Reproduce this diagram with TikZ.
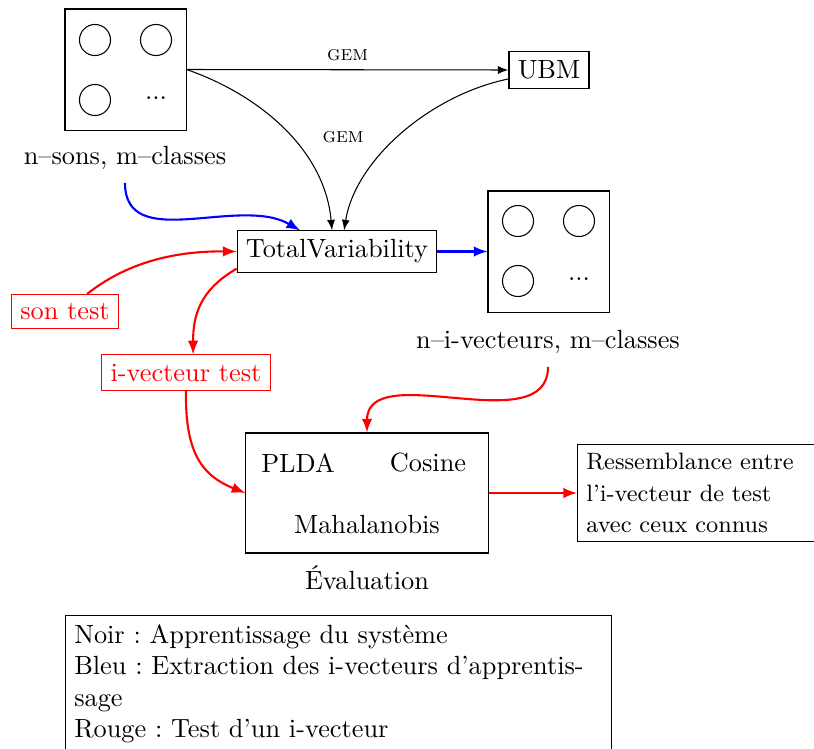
\documentclass[tikz,border=0pt]{standalone}
\usetikzlibrary{arrows}
\begin{document}
\begin{tikzpicture}[x=0.38pt,y=-0.38pt,
  box/.style={draw, inner sep=3.33pt},
  sq/.style={draw, minimum width=46pt, minimum height=46pt, inner sep=0pt},
  circ/.style={draw, circle, minimum size=11.8pt, inner sep=0pt},
  blk/.style={-latex},
  blu/.style={blue, thick, -latex},
  rd/.style={red, thick, -latex},
  redbox/.style={draw=red, text=red, inner sep=3.33pt},
  lbl/.style={font=\footnotesize}]
\path[use as bounding box, clip] (0,0) rectangle (814,749);

% training set box
\node[sq] (boxA) at (125.5,69.5) {};
\node[circ] (a1) at (95,40) {};
\node[circ] (a2) at (156,40) {};
\node[circ] (a3) at (95,100) {};
\node (a4) at (156,98) {...};
\node (lblA) at (125,158) {n--sons, m--classes};

\node[box] (ubm) at (549,70) {UBM};
\node[box] (tv) at (337,251.5) {TotalVariability};

% i-vectors box
\node[sq] (boxB) at (548.5,251.5) {};
\node[circ] (b1) at (518,221) {};
\node[circ] (b2) at (579,221) {};
\node[circ] (b3) at (518,281) {};
\node (b4) at (579,279) {...};
\node (lblB) at (548,342) {n--i-vecteurs, m--classes};

\node[redbox] (sontest) at (65,311.5) {son test};
\node[redbox] (ivtest) at (186,372.5) {i-vecteur test};

\node[draw, minimum width=92pt, minimum height=45.6pt] (eval) at (367,493) {};
\node (plda) at (298,463) {PLDA};
\node (cos) at (428,463) {Cosine};
\node (maha) at (367,525) {Mahalanobis};
\node (evallbl) at (367,578) {\'Evaluation};

\node[box, anchor=west, text width=3cm, align=left, font={\fontsize{9}{12}\selectfont}] (ress) at (577,493)
  {Ressemblance entre\\l'i-vecteur de test\\avec ceux connus};

\node[box, anchor=north west, text width=200.8pt, align=left] (legend) at (65,615)
  {\frenchspacing Noir : Apprentissage du syst\`eme\\Bleu : Extraction des i-vecteurs d'apprentis-\\sage\\Rouge : Test d'un i-vecteur};

\node[lbl] (gem2) at (343,137) {\textsc{gem}};

% black connectors
\draw[blk] (boxA.east) -- node[lbl, above] (gem1) {\textsc{gem}} (ubm.west);
\draw[blk] (boxA.east) .. controls (260,95) and (325,150) .. ([xshift=-1.9pt]tv.north);
\draw[blk] ([yshift=-3.4pt]ubm.west) .. controls (430,95) and (355,160) .. ([xshift=2.7pt]tv.north);

% blue connectors
\draw[blu] ([yshift=-1.5pt]lblA.south) to[out=-90, in=150] ([xshift=-14pt]tv.north);
\draw[blu] (tv.east) -- (boxB.west);

% red connectors
\draw[rd] ([xshift=8.4pt]sontest.north) .. controls (130,260) and (180,251) .. (tv.west);
\draw[rd] ([yshift=1.5pt]tv.south west) .. controls (200,290) and (193,315) .. ([xshift=2.7pt]ivtest.north);
\draw[rd] (ivtest.south) .. controls (185,450) and (200,475) .. (eval.west);
\draw[rd] ([yshift=-1.5pt]lblB.south) to[out=-90, in=90] (eval.north);
\draw[rd] (eval.east) -- (ress.west);
\end{tikzpicture}
\end{document}
